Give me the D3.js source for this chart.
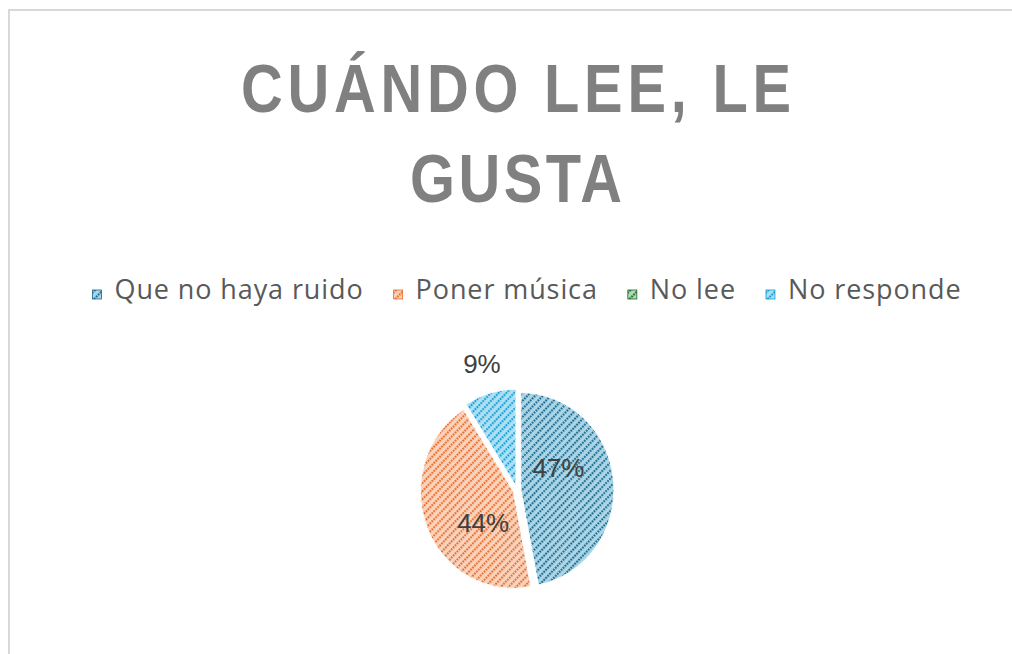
<!DOCTYPE html>
<html>
<head>
<meta charset="utf-8">
<style>
  body { margin: 0; background: #fff; overflow: hidden; }
  svg { display: block; }
</style>
</head>
<body>
<svg id="chart" width="1012" height="654"></svg>
<script src="https://d3js.org/d3.v7.min.js"></script>
<script>
    // chart data
    const titleLines = ["CUÁNDO LEE, LE", "GUSTA"]
    const categories = ["Que no haya ruido", "Poner música", "No lee", "No responde"]
    const values = [47, 44, 0, 9]
    const labels = ["47%", "44%", "", "9%"]
    const fgColors = ["#17678a", "#e86b28", "#196b24", "#0f9ed5"]
    const bgColors = ["#acd6e8", "#fad3bd", "#b7d8bb", "#ade0f4"]

    const svg = d3.select("#chart")

    // frame of the chart area: only the top and left edges are on the page
    svg.append("path")
        .attr("d", "M9,660 V10 H1020")
        .attr("fill", "none")
        .attr("stroke", "#d9d9d9")
        .attr("stroke-width", 2)

    // hatch patterns, one per series
    let defs = svg.append("defs")
    categories.forEach((c, i) => {
        let p = defs.append("pattern")
            .attr("id", "hatch" + i)
            .attr("patternUnits", "userSpaceOnUse")
            .attr("width", 5.7).attr("height", 5.7)
            .attr("patternTransform", "rotate(45)")
        p.append("rect")
            .attr("width", 5.7).attr("height", 5.7)
            .attr("fill", bgColors[i])
        p.append("line")
            .attr("x1", 1.2).attr("y1", 0)
            .attr("x2", 1.2).attr("y2", 5.7)
            .attr("stroke", fgColors[i])
            .attr("stroke-width", 2)
            .attr("stroke-dasharray", "2 0.85")
    })

    // title, squeezed horizontally to look condensed, then spaced out
    const titleWidths = [550, 212]
    const squeeze = 0.85
    svg.append("g")
        .attr("transform", `translate(516,0) scale(${squeeze},1)`)
        .selectAll("text")
        .data(titleLines)
        .join("text")
            .attr("x", 0)
            .attr("y", (d, i) => 112 + i * 90)
            .attr("text-anchor", "middle")
            .attr("textLength", (d, i) => titleWidths[i] / squeeze)
            .attr("lengthAdjust", "spacing")
            .attr("font-family", "'Liberation Sans', Arial, sans-serif")
            .attr("font-weight", "bold")
            .attr("font-size", 68)
            .attr("fill", "#808080")
            .text(d => d)

    // legend, laid out from the measured text widths and centred
    let legend = svg.append("g").attr("class", "legend")
    let items = legend.selectAll("g")
        .data(categories)
        .join("g")
    items.append("rect")
        .attr("width", 9).attr("height", 9)
        .attr("y", -9)
        .attr("fill", (d, i) => "url(#hatch" + i + ")")
        .attr("stroke", (d, i) => fgColors[i])
        .attr("stroke-width", 0.8)
    items.append("text")
        .attr("x", 22)
        .attr("font-family", "'Open Sans', sans-serif")
        .attr("font-size", 27)
        .attr("letter-spacing", 0.9)
        .attr("fill", "#595959")
        .text(d => d)

    let xPos = 0
    let offsets = []
    items.each(function () {
        offsets.push(xPos)
        let w = d3.select(this).select("text").node().getComputedTextLength()
        xPos += 22 + w + 30
    })
    let totalW = xPos - 30
    let legendLeft = 527 - totalW / 2
    items.attr("transform", (d, i) => `translate(${legendLeft + offsets[i]},299)`)

    // pie
    const cx = 517, cy = 490, r = 97
    const explode = 4
    let pie = d3.pie().sort(null).value(d => d)
    let arcs = pie(values)
    let arc = d3.arc().innerRadius(0).outerRadius(r)

    let pieG = svg.append("g")
        .attr("transform", `translate(${cx},${cy}) scale(0.96,1)`)

    pieG.selectAll("path")
        .data(arcs)
        .join("path")
            .attr("d", arc)
            .attr("transform", d => {
                let a = (d.startAngle + d.endAngle) / 2
                return `translate(${Math.sin(a) * explode},${-Math.cos(a) * explode})`
            })
            .attr("fill", (d, i) => "url(#hatch" + i + ")")
            .attr("stroke", "#fff")
            .attr("stroke-width", 1)

    // data labels: inside for big slices, outside for small
    let labelG = svg.append("g").attr("transform", `translate(${cx},${cy})`)
    labelG.selectAll("text")
        .data(arcs.filter(d => d.value > 0))
        .join("text")
            .attr("transform", d => {
                let a = (d.startAngle + d.endAngle) / 2
                let rad = r * 0.5
                if (d.value < 15) { rad = r * 1.35 }
                else { a -= 0.38 }
                return `translate(${Math.sin(a) * rad * 0.96},${-Math.cos(a) * rad})`
            })
            .attr("text-anchor", "middle")
            .attr("dy", "0.35em")
            .attr("font-family", "'Liberation Sans', Arial, sans-serif")
            .attr("font-size", 26)
            .attr("fill", "#404040")
            .text(d => labels[d.index])
</script>
</body>
</html>
